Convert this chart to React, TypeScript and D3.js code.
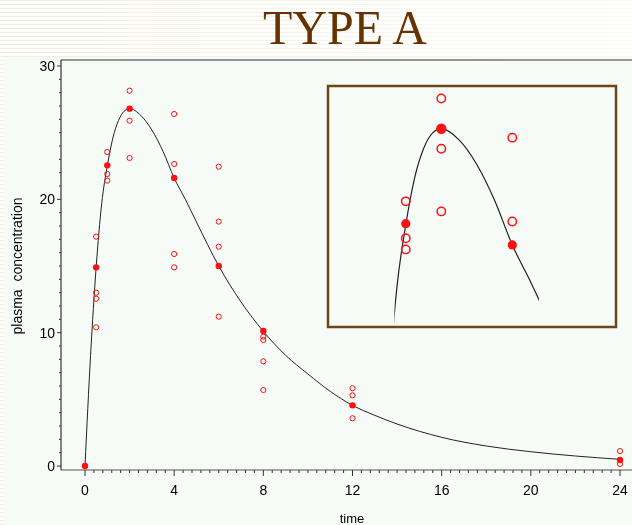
import React from "react";
import * as d3 from "d3";

// ---- data ----
const curveTime = [0, 0.25, 0.5, 0.75, 1, 1.25, 1.5, 1.75, 2, 2.5, 3, 3.5, 4, 4.5, 5, 6, 7, 8, 9, 10, 11, 12, 13, 14, 16, 18, 20, 22, 24];
const curveConc = [0, 8.3, 14.9, 19.7, 22.5, 24.6, 25.9, 26.6, 26.8, 26.3, 25.2, 23.6, 21.6, 20.0, 18.3, 15.0, 12.3, 10.1, 8.3, 6.9, 5.6, 4.55, 3.8, 3.15, 2.15, 1.5, 1.07, 0.75, 0.5];

const obsTime = [0.5, 0.5, 0.5, 0.5, 1, 1, 1, 2, 2, 2, 4, 4, 4, 4, 6, 6, 6, 6, 8, 8, 8, 8, 12, 12, 12, 24, 24];
const obsConc = [17.2, 13.0, 12.55, 10.4, 23.55, 21.9, 21.4, 28.15, 25.9, 23.1, 26.4, 22.65, 15.9, 14.9, 22.45, 18.33, 16.45, 11.2, 9.7, 9.45, 7.85, 5.7, 5.83, 5.3, 3.58, 1.12, 0.15];

const meanTime = [0, 0.5, 1, 2, 4, 6, 8, 12, 24];
const meanConc = [0, 14.9, 22.55, 26.8, 21.6, 15.0, 10.13, 4.55, 0.45];

const xTickLabels = [0, 4, 8, 12, 16, 20, 24];
const yTickLabels = [0, 10, 20, 30];

const insetTimes = [1, 2, 4];
const insetCurveRange = [0.68, 4.75];

const title = "TYPE A";
const xTitle = "time";
const yTitle = "plasma  concentration";

export default function App() {
  const W = 632, H = 525;
  const x = d3.scaleLinear().domain([0, 24]).range([85, 620]);
  const y = d3.scaleLinear().domain([0, 30]).range([466, 66]);

  const axisLeft = 61, axisBottom = 470, frameTop = 60, frameRight = 632;

  const xi = d3.scaleLinear().domain([-1.19, 6.92]).range([328, 616]);
  const yi = d3.scaleLinear().domain([17.93, 28.71]).range([327, 86]);

  const curvePts: [number, number][] = curveTime.map((t, i) => [t, curveConc[i]]);
  const line = d3.line<[number, number]>().x(d => x(d[0])).y(d => y(d[1])).curve(d3.curveMonotoneX);
  const lineI = d3.line<[number, number]>().x(d => xi(d[0])).y(d => yi(d[1])).curve(d3.curveMonotoneX);

  const minorX = d3.range(0, 24.0001, 0.4);
  const minorY = d3.range(0, 30.0001, 1);

  const red = "#ff1010";
  const font = "'Liberation Sans', Arial, sans-serif";

  const insetObs = obsTime.map((t, i) => ({ t, v: obsConc[i] }))
    .filter(d => insetTimes.includes(d.t) && d.v >= yi.domain()[0] && d.v <= yi.domain()[1]);
  const insetMean = meanTime.map((t, i) => ({ t, v: meanConc[i] }))
    .filter(d => insetTimes.includes(d.t));

  const [bx0, bx1] = xi.range();
  const [by1, by0] = yi.range();

  return (
    <div style={{ position: "fixed", left: 0, top: 0 }}>
      <svg width={W} height={H} style={{ display: "block" }}>
        <defs>
          <pattern id="stripes" width="4" height="4" patternUnits="userSpaceOnUse">
            <rect width="4" height="4" fill="#ffffff" />
            <rect y="0" width="4" height="1" fill="#f3eddb" />
          </pattern>
          <linearGradient id="fade" x1="0" x2="1" y1="0" y2="0">
            <stop offset="0" stopColor="#ffffff" stopOpacity="0" />
            <stop offset="1" stopColor="#ffffff" stopOpacity="0.7" />
          </linearGradient>
          <clipPath id="insetClip">
            <rect x={xi(insetCurveRange[0])} y={by0} width={xi(insetCurveRange[1]) - xi(insetCurveRange[0])} height={by1 - by0} />
          </clipPath>
        </defs>
        <rect width={W} height={H} fill="url(#stripes)" />
        <rect width={W} height={57} fill="url(#fade)" />
        <rect x={4} y={57} width={W - 4} height={H - 57} fill="#f6fbf8" />

        <text x={345} y={44} textAnchor="middle" fontFamily="'Liberation Serif', 'Times New Roman', serif" fontSize={48} fill="#663300">{title}</text>

        {/* frame */}
        <line x1={axisLeft} x2={frameRight} y1={frameTop} y2={frameTop} stroke="#333" strokeWidth={1.2} />
        <line x1={axisLeft} x2={axisLeft} y1={frameTop} y2={axisBottom} stroke="#333" strokeWidth={1.2} />
        <line x1={axisLeft} x2={frameRight} y1={axisBottom} y2={axisBottom} stroke="#555" strokeWidth={1.2} />

        {/* x ticks */}
        {minorX.map((t, i) => {
          const major = xTickLabels.some(v => Math.abs(v - t) < 1e-6);
          return <line key={"xt" + i} x1={x(t)} x2={x(t)} y1={axisBottom} y2={axisBottom + (major ? 6 : 3)} stroke="#333" strokeWidth={1} />;
        })}
        {xTickLabels.map(v => (
          <text key={"xl" + v} x={x(v)} y={495} textAnchor="middle" fontFamily={font} fontSize={14} fill="#000">{v}</text>
        ))}
        {/* y ticks */}
        {minorY.map((v, i) => {
          const major = yTickLabels.includes(v);
          return <line key={"yt" + i} x1={axisLeft - (major ? 4 : 2)} x2={axisLeft} y1={y(v)} y2={y(v)} stroke="#333" strokeWidth={1} />;
        })}
        {yTickLabels.map(v => (
          <text key={"yl" + v} x={55} y={y(v) + 5} textAnchor="end" fontFamily={font} fontSize={14} fill="#000">{v}</text>
        ))}

        <text x={352} y={523} textAnchor="middle" fontFamily={font} fontSize={13} fill="#000">{xTitle}</text>
        <text transform={`translate(22,266) rotate(-90)`} textAnchor="middle" fontFamily={font} fontSize={14} fill="#000" style={{ whiteSpace: "pre" }}>{yTitle}</text>

        {/* main curve */}
        <path d={line(curvePts) || ""} fill="none" stroke="#222" strokeWidth={1} />

        {obsTime.map((t, i) => (
          <circle key={"o" + i} cx={x(t)} cy={y(obsConc[i])} r={2.6} fill="none" stroke={red} strokeWidth={1} />
        ))}
        {meanTime.map((t, i) => (
          <circle key={"m" + i} cx={x(t)} cy={y(meanConc[i])} r={3.2} fill={red} />
        ))}

        {/* inset */}
        <rect x={bx0} y={by0} width={bx1 - bx0} height={by1 - by0} fill="#f6fbf8" stroke="#6e4515" strokeWidth={2.5} />
        <path d={lineI(curvePts) || ""} fill="none" stroke="#222" strokeWidth={1.2} clipPath="url(#insetClip)" />
        {insetObs.map((d, i) => (
          <circle key={"io" + i} cx={xi(d.t)} cy={yi(d.v)} r={4.2} fill="none" stroke={red} strokeWidth={1.5} />
        ))}
        {insetMean.map((d, i) => (
          <circle key={"im" + i} cx={xi(d.t)} cy={yi(d.v)} r={d.t === 2 ? 5.2 : 4.6} fill={red} />
        ))}
      </svg>
    </div>
  );
}
